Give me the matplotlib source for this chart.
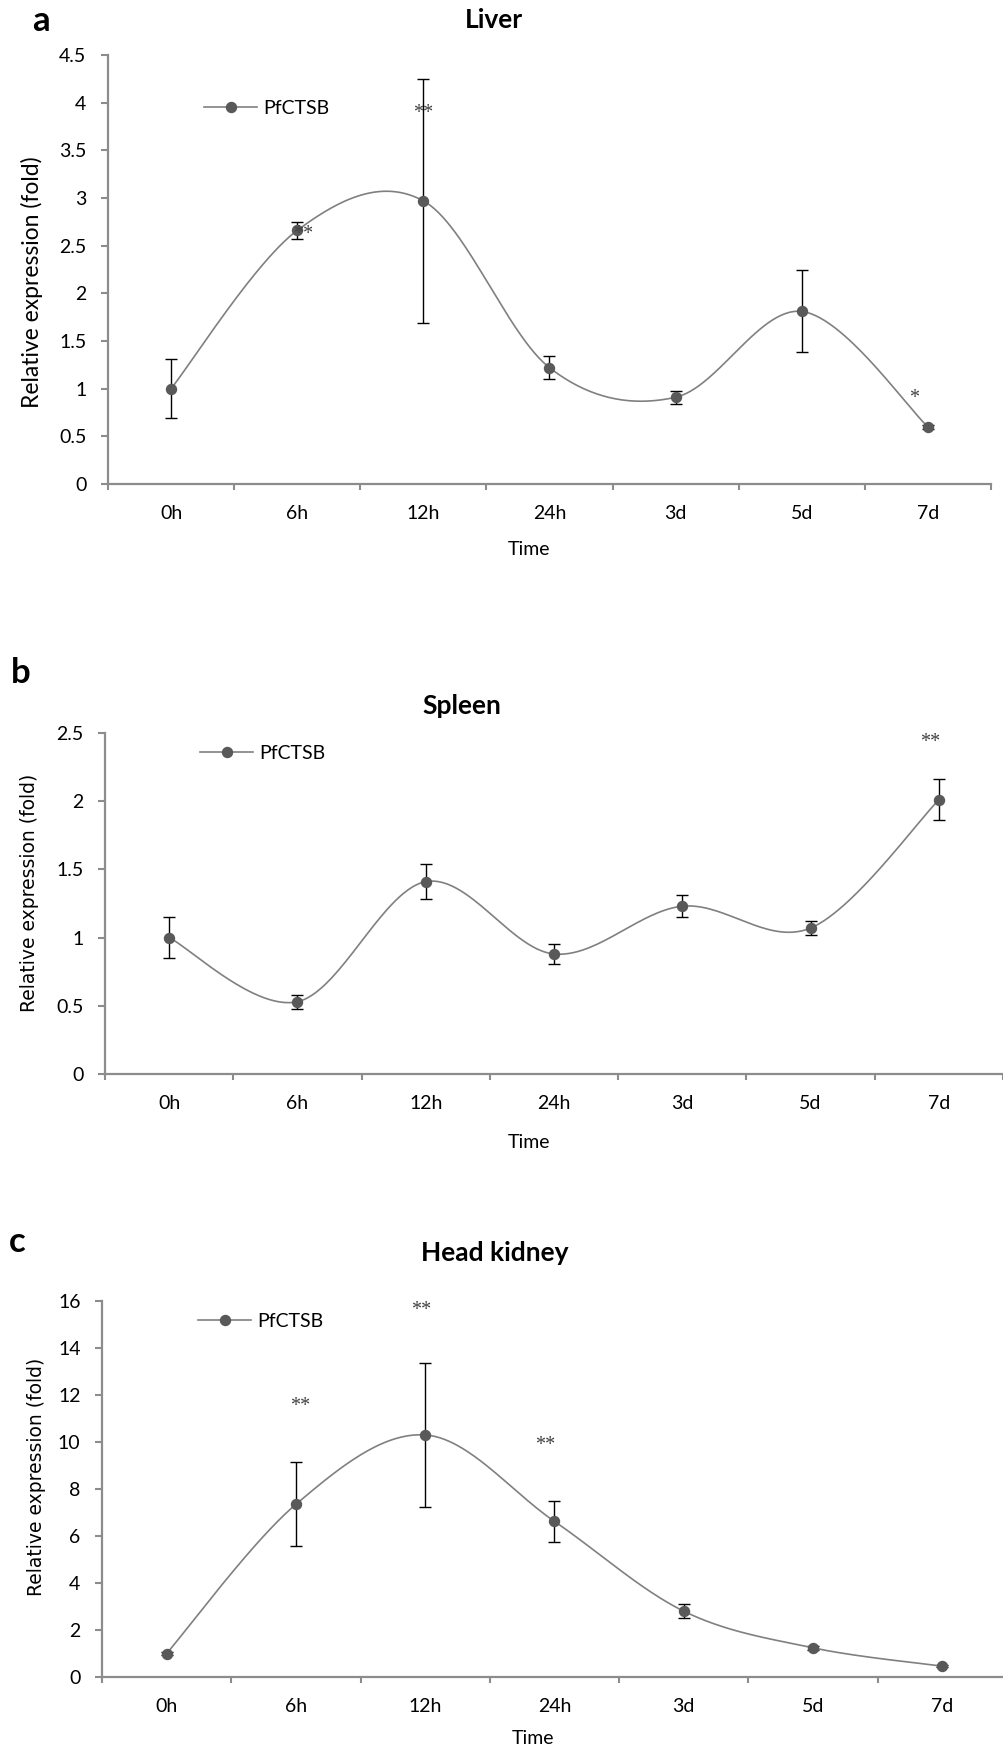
import numpy as np
import matplotlib
matplotlib.use("Agg")
import matplotlib.pyplot as plt
from matplotlib.lines import Line2D

# ---------------- data ----------------
categories = ['0h', '6h', '12h', '24h', '3d', '5d', '7d']

liver_mean = [1.00, 2.66, 2.97, 1.22, 0.91, 1.81, 0.60]
liver_err = [0.31, 0.09, 1.28, 0.12, 0.07, 0.43, 0.02]
liver_sig = ['', '**', '**', '', '', '', '*']
liver_sig_y = [None, 2.62, 3.89, None, None, None, 0.90]

spleen_mean = [1.00, 0.53, 1.41, 0.88, 1.23, 1.07, 2.01]
spleen_err = [0.15, 0.05, 0.13, 0.07, 0.08, 0.05, 0.15]
spleen_sig = ['', '', '', '', '', '', '**']
spleen_sig_y = [None, None, None, None, None, None, 2.43]

kidney_mean = [1.00, 7.35, 10.30, 6.62, 2.80, 1.24, 0.46]
kidney_err = [0.08, 1.79, 3.07, 0.86, 0.30, 0.08, 0.05]
kidney_sig = ['', '**', '**', '**', '', '', '']
kidney_sig_y = [None, 11.5, 15.6, 9.83, None, None, None]

series_name = 'PfCTSB'
titles = ['Liver', 'Spleen', 'Head kidney']
panel_letters = ['a', 'b', 'c']

# ---------------- layout / style ----------------
W, H = 1004, 1751
fig = plt.figure(figsize=(W / 100, H / 100), dpi=100)

LINE_C = '#808080'
MARK_C = '#595959'
SPINE_C = '#8c8c8c'
FONT = ['Lato', 'DejaVu Sans']


def fx(px):
    return px / W


def fy(py):
    return 1 - py / H


def smooth(y, n=60):
    """Excel-style smoothed line (Catmull-Rom as cubic Bezier)."""
    x = np.arange(len(y)) + 0.5
    P = np.column_stack([x, np.asarray(y, float)])
    out = []
    t = np.linspace(0, 1, n)[:, None]
    for i in range(len(P) - 1):
        p0 = P[i - 1] if i > 0 else P[i]
        p1, p2 = P[i], P[i + 1]
        p3 = P[i + 2] if i + 2 < len(P) else P[i + 1]
        c1 = p1 + (p2 - p0) / 6
        c2 = p2 - (p3 - p1) / 6
        seg = (1 - t) ** 3 * p1 + 3 * (1 - t) ** 2 * t * c1 + 3 * (1 - t) * t ** 2 * c2 + t ** 3 * p2
        out.append(seg if i == 0 else seg[1:])
    return np.vstack(out)


panels = [
    dict(mean=liver_mean, err=liver_err, sig=liver_sig, sig_y=liver_sig_y,
         sig_dx=[0, 0.05, 0, 0, 0, 0, -0.11],
         left=108, right=991, top=55, bottom=484, ymax=4.5, step=0.5,
         title_xy=(494, 20), letter_xy=(41, 21), ylab_xy=(32, 282), ylab_font=FONT, ylab_size=16.5,
         time_xy=(529, 549), leg_xy=(204, 108)),
    dict(mean=spleen_mean, err=spleen_err, sig=spleen_sig, sig_y=spleen_sig_y,
         sig_dx=[0, 0, 0, 0, 0, 0, -0.07],
         left=105, right=1003, top=733, bottom=1074, ymax=2.5, step=0.5,
         title_xy=(462, 706), letter_xy=(21, 673), ylab_xy=(30, 893), ylab_font=['DejaVu Sans'], ylab_size=13.5,
         time_xy=(529, 1142), leg_xy=(200, 753)),
    dict(mean=kidney_mean, err=kidney_err, sig=kidney_sig, sig_y=kidney_sig_y,
         sig_dx=[0, 0.03, -0.03, -0.07, 0, 0, 0],
         left=102, right=1007, top=1301, bottom=1677, ymax=16, step=2,
         title_xy=(495, 1253), letter_xy=(17, 1242), ylab_xy=(37, 1477), ylab_font=['DejaVu Sans'], ylab_size=13.5,
         time_xy=(533, 1738), leg_xy=(198, 1321)),
]

for k, p in enumerate(panels):
    ax = fig.add_axes([fx(p['left']), fy(p['bottom']),
                       (p['right'] - p['left']) / W, (p['bottom'] - p['top']) / H])
    xc = np.arange(len(categories)) + 0.5
    ax.errorbar(xc, p['mean'], yerr=p['err'], fmt='none', ecolor='black',
                elinewidth=1.0, capsize=4, capthick=1.0, zorder=2)
    curve = smooth(p['mean'])
    ax.plot(curve[:, 0], curve[:, 1], color=LINE_C, lw=1.2, zorder=3)
    ax.plot(xc, p['mean'], linestyle='none', marker='o', ms=7.2,
            mfc=MARK_C, mec=MARK_C, zorder=4)
    for i, s in enumerate(p['sig']):
        if s:
            ax.text(xc[i] + p['sig_dx'][i], p['sig_y'][i], s, ha='center', va='center',
                    fontsize=14.5, color='#404040', family=['Liberation Serif'], zorder=5)

    ax.set_xlim(0, len(categories))
    ax.set_ylim(0, p['ymax'])
    yt = np.arange(0, p['ymax'] + 1e-9, p['step'])
    ax.set_yticks(yt)
    ax.set_yticklabels([f'{v:g}' for v in yt], family=FONT, fontsize=14)
    ax.set_xticks(np.arange(len(categories) + 1))
    ax.set_xticklabels([])
    ax.set_xticks(xc, minor=True)
    ax.set_xticklabels(categories, minor=True, family=FONT, fontsize=14)
    ax.tick_params(axis='x', which='major', direction='out', length=4.5, width=1.5, color=SPINE_C)
    ax.tick_params(axis='x', which='minor', length=0, pad=15)
    ax.tick_params(axis='y', direction='out', length=5, width=1.5, color=SPINE_C, pad=10.5)
    for side in ('top', 'right'):
        ax.spines[side].set_visible(False)
    for side in ('left', 'bottom'):
        ax.spines[side].set_color(SPINE_C)
        ax.spines[side].set_linewidth(1.6)
    ax.patch.set_alpha(0)

    handle = Line2D([], [], color=LINE_C, lw=1.2, marker='o', ms=7.2, mfc=MARK_C, mec=MARK_C)
    ax.legend([handle], [series_name], loc='center left',
              bbox_to_anchor=(fx(p['leg_xy'][0]), fy(p['leg_xy'][1])),
              bbox_transform=fig.transFigure, frameon=False, borderpad=0,
              borderaxespad=0, handlelength=2.75, handletextpad=0.3,
              prop=dict(family=FONT, size=14))

    fig.text(fx(p['title_xy'][0]), fy(p['title_xy'][1]), titles[k], ha='center', va='center',
             fontsize=19, fontweight='bold', family=FONT)
    fig.text(fx(p['letter_xy'][0]), fy(p['letter_xy'][1]), panel_letters[k], ha='center',
             va='center', fontsize=25, fontweight='bold', family=FONT)
    fig.text(fx(p['ylab_xy'][0]), fy(p['ylab_xy'][1]), 'Relative expression (fold)',
             rotation=90, ha='center', va='center', fontsize=p['ylab_size'], family=p['ylab_font'])
    fig.text(fx(p['time_xy'][0]), fy(p['time_xy'][1]), 'Time', ha='center', va='center',
             fontsize=14, family=FONT)

fig.savefig('out.png', dpi=100, facecolor='white')
